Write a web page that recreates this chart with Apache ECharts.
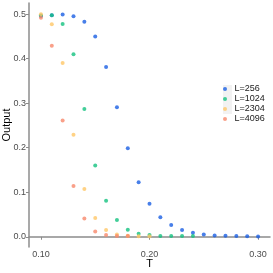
<!DOCTYPE html>
<html><head><meta charset="utf-8">
<script src="https://cdn.jsdelivr.net/npm/echarts@6/dist/echarts.min.js"></script>
<style>html,body{margin:0;padding:0;background:#fff}#c{width:273px;height:273px}</style>
</head><body><div id="c"></div>
<script>
const seriesNames = ['L=256','L=1024','L=2304','L=4096'];
const colors = ['#1a5fe3','#14c27f','#ffc766','#f7886c'];
const T256  = [0.10,0.11,0.12,0.13,0.14,0.15,0.16,0.17,0.18,0.19,0.20,0.21,0.22,0.23,0.24,0.25,0.26,0.27,0.28,0.29,0.30];
const V256  = [0.496,0.4975,0.499,0.4955,0.483,0.4495,0.381,0.2906,0.199,0.1226,0.074,0.044,0.0262,0.015,0.009,0.005,0.003,0.002,0.0015,0.001,0.0007];
const T1024 = [0.10,0.11,0.12,0.13,0.14,0.15,0.16,0.17,0.18,0.19,0.20,0.21,0.22,0.23,0.24];
const V1024 = [0.497,0.4975,0.478,0.410,0.287,0.160,0.081,0.0375,0.0157,0.0067,0.004,0.0016,0.0016,0.0016,0.0016];
const T2304 = [0.10,0.11,0.12,0.13,0.14,0.15,0.16,0.17,0.18,0.19,0.20];
const V2304 = [0.500,0.477,0.390,0.229,0.107,0.042,0.015,0.005,0.002,0.001,0.001];
const T4096 = [0.10,0.11,0.12,0.13,0.14,0.15,0.16,0.17,0.18];
const V4096 = [0.4917,0.429,0.261,0.114,0.041,0.012,0.004,0.0015,0.0015];
const xTicks = [0.10,0.20,0.30];
const yTicks = [0.0,0.1,0.2,0.3,0.4,0.5];

const Ts = [T256,T1024,T2304,T4096];
const Vs = [V256,V1024,V2304,V4096];
const font = 'Liberation Sans';
const chart = echarts.init(document.getElementById('c'));
chart.setOption({
  animation:false,
  textStyle:{fontFamily:font},
  grid:{left:29,right:3,top:3,bottom:26,containLabel:false,outerBoundsMode:'none'},
  graphic:[{type:'rect',shape:{x:223,y:85,width:9,height:29},style:{fill:'#f2f2f2'},z:0}],
  legend:{
    orient:'vertical', left:223, top:84,
    data:seriesNames.map(n=>({name:n,icon:'circle'})),
    itemWidth:9, itemHeight:4, itemGap:0,
    textStyle:{fontFamily:font,fontSize:9,lineHeight:10,color:'#1a1a1a'},
    padding:0
  },
  xAxis:{
    type:'value', min:0.089, max:0.311,
    name:'T', nameLocation:'middle', nameGap:11, nameMoveOverlap:false,
    nameTextStyle:{fontFamily:font,fontSize:11,color:'#000'},
    splitLine:{show:false},
    axisLine:{show:true,lineStyle:{color:'#8c8c8c',width:1.5}},
    axisTick:{show:true,length:3,lineStyle:{color:'#8c8c8c'},customValues:xTicks},
    axisLabel:{fontFamily:font,fontSize:9,color:'#4d4d4d',margin:3,customValues:xTicks,
      formatter:v=>v.toFixed(2)}
  },
  yAxis:{
    type:'value', min:-0.023, max:0.525,
    name:'Output', nameLocation:'middle', nameGap:16.5, nameRotate:90, nameMoveOverlap:false,
    nameTextStyle:{fontFamily:font,fontSize:11,color:'#000'},
    splitLine:{show:false},
    axisLine:{show:true,lineStyle:{color:'#8c8c8c',width:1.5}},
    axisTick:{show:true,length:3,lineStyle:{color:'#8c8c8c'},customValues:yTicks},
    axisLabel:{fontFamily:font,fontSize:9,color:'#4d4d4d',margin:3,customValues:yTicks,
      formatter:v=>v.toFixed(1)}
  },
  series:seriesNames.map((n,i)=>({
    name:n, type:'scatter', symbol:'circle', symbolSize:4,
    itemStyle:{color:colors[i]},
    data:Ts[i].map((t,j)=>[t,Vs[i][j]])
  }))
});
</script></body></html>
